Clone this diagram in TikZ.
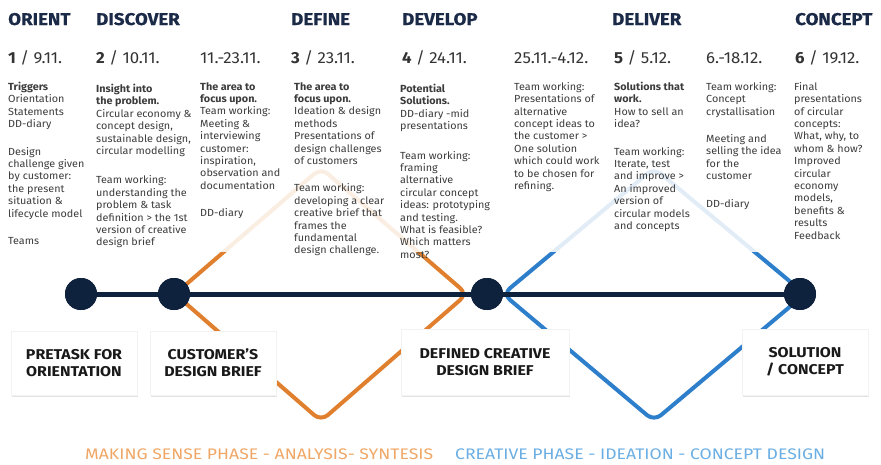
\documentclass[tikz,border=0pt]{standalone}
\usepackage{fontspec}
\setmainfont{Fira Sans}
\newfontfamily\titlef[FakeStretch=1.1,FakeBold=0.4]{Fira Sans}
\newfontfamily\bodyf[FakeStretch=1.05]{Fira Sans}
\newfontfamily\datef[FakeStretch=1.05]{Fira Sans}
\newfontfamily\phasef[FakeStretch=1.15]{Fira Sans}
\newfontfamily\boxf[FakeStretch=1.12]{Fira Sans}
\usetikzlibrary{shadows}
\definecolor{navy}{HTML}{0E213D}
\definecolor{ora}{HTML}{E0802E}
\definecolor{blu}{HTML}{2E7FCB}
\definecolor{oraL}{HTML}{F0A765}
\definecolor{bluL}{HTML}{6AAEE3}
\definecolor{bodytxt}{HTML}{3C3C3C}
\definecolor{headtxt}{HTML}{1B2A47}
\tikzset{
  title/.style={anchor=base west, inner sep=0pt, text=headtxt, font=\titlef\fontsize{17}{20}\selectfont\bfseries},
  datetxt/.style={anchor=base west, inner sep=0pt, text=black!80, font=\datef\fontsize{16}{19}\selectfont},
  coltxt/.style={anchor=north west, inner sep=0pt, align=left, text=bodytxt, font=\bodyf\fontsize{10.3}{12.4}\selectfont},
  boxnode/.style={fill=white, draw=black!5, align=center, text=black!90,
     font=\boxf\fontsize{14.2}{17}\selectfont\bfseries,
     drop shadow={shadow xshift=0.5pt, shadow yshift=-2pt, opacity=0.22}},
  dot/.style={circle, fill=navy, minimum size=32pt, inner sep=0pt},
  diamondline/.style={line width=4pt, rounded corners=9pt, line join=round},
  phase/.style={anchor=base west, inner sep=0pt, font=\phasef\fontsize{15.3}{17}\selectfont}
}
\newcommand{\gp}{\\[15pt]}
\begin{document}
\begin{tikzpicture}[x=1pt,y=-1pt]
\useasboundingbox (0,0) rectangle (881,464);
\fill[white] (0,0) rectangle (881,464);
% diamonds
\draw[diamondline, ora] (175,294) -- (321,168) -- (467,294) -- (321,421) -- cycle;
\draw[diamondline, blu] (503,294) -- (654,168) -- (805,294) -- (654,421) -- cycle;
% fading band
\fill[white, opacity=0.86] (0,72) rectangle (881,252);
% titles
\node[title] (tOrient) at (8,25) {ORIENT};
\node[title] (tDiscover) at (96,25) {DISCOVER};
\node[title] (tDefine) at (291,25) {DEFINE};
\node[title] (tDevelop) at (402,25) {DEVELOP};
\node[title] (tDeliver) at (612,25) {DELIVER};
\node[title] (tConcept) at (795,25) {CONCEPT};
% dates
\node[datetxt] (d1) at (8,63) {\textbf{1} / 9.11.};
\node[datetxt] (d2) at (96,63) {\textbf{2} / 10.11.};
\node[datetxt] (d2b) at (200,63) {11.-23.11.};
\node[datetxt] (d3) at (291,63) {\textbf{3} / 23.11.};
\node[datetxt] (d4) at (402,63) {\textbf{4} / 24.11.};
\node[datetxt] (d4b) at (514,63) {25.11.-4.12.};
\node[datetxt] (d5) at (614,63) {\textbf{5} / 5.12.};
\node[datetxt] (d5b) at (706,63) {6.-18.12.};
\node[datetxt] (d6) at (795,63) {\textbf{6} / 19.12.};
% columns
\node[coltxt] (c1) at (8,82) {\textbf{Triggers}\\ Orientation\\ Statements\\ DD-diary\gp Design\\ challenge given\\ by customer:\\ the present\\ situation \&\\ lifecycle model\gp Teams};
\node[coltxt] (c2) at (96,84) {\textbf{Insight into}\\ \textbf{the problem.}\\ Circular economy \&\\ concept design,\\ sustainable design,\\ circular modelling\\[17pt] Team working:\\ understanding the\\ problem \& task\\ definition > the 1st\\ version of creative\\ design brief};
\node[coltxt] (c3) at (200,82) {\textbf{The area to}\\ \textbf{focus upon.}\\ Team working:\\ Meeting \&\\ interviewing\\ customer:\\ inspiration,\\ observation and\\ documentation\gp DD-diary};
\node[coltxt] (c4) at (294,82) {\textbf{The area to}\\ \textbf{focus upon.}\\ Ideation \& design\\ methods\\ Presentations of\\ design challenges\\ of customers\gp Team working:\\ developing a clear\\ creative brief that\\ frames the\\ fundamental\\ design challenge.};
\node[coltxt] (c5) at (400,84) {\textbf{Potential}\\ \textbf{Solutions.}\\ DD-diary -mid\\ presentations\\[17pt] Team working:\\ framing\\ alternative\\ circular concept\\ ideas: prototyping\\ and testing.\\ What is feasible?\\ Which matters\\ most?};
\node[coltxt] (c6) at (514,82) {Team working:\\ Presentations of\\ alternative\\ concept ideas to\\ the customer >\\ One solution\\ which could work\\ to be chosen for\\ refining.};
\node[coltxt] (c7) at (614,82) {\textbf{Solutions that}\\ \textbf{work.}\\ How to sell an\\ idea?\gp Team working:\\ Iterate, test\\ and improve >\\ An improved\\ version of\\ circular models\\ and concepts};
\node[coltxt] (c8) at (706,82) {Team working:\\ Concept\\ crystallisation\gp Meeting and\\ selling the idea\\ for the\\ customer\gp DD-diary};
\node[coltxt] (c9) at (794,82) {Final\\ presentations\\ of circular\\ concepts:\\ What, why, to\\ whom \& how?\\ Improved\\ circular\\ economy\\ models,\\ benefits \&\\ results\\ Feedback};
% timeline
\node[dot] (n1) at (81,294) {};
\node[dot] (n2) at (174,294) {};
\node[dot] (n4) at (487,294) {};
\node[dot] (n6) at (800,294) {};
\draw[navy, line width=5pt] (n1.center) -- (n6.center);
\node[dot] at (n1) {};
\node[dot] at (n2) {};
\node[dot] at (n4) {};
\node[dot] at (n6) {};
% boxes
\node[boxnode, minimum width=126pt, minimum height=64pt] (b1) at (74,363) {PRETASK FOR\\ORIENTATION};
\node[boxnode, minimum width=126pt, minimum height=64pt] (b2) at (213,363) {CUSTOMER’S\\DESIGN BRIEF};
\node[boxnode, minimum width=168pt, minimum height=66pt] (b3) at (485,362) {DEFINED CREATIVE\\DESIGN BRIEF};
\node[boxnode, minimum width=126pt, minimum height=66pt] (b4) at (805,362) {SOLUTION\\/ CONCEPT};
% phase labels
\node[phase, text=oraL] (p1) at (85,459) {MAKING SENSE PHASE - ANALYSIS- SYNTESIS};
\node[phase, text=bluL] (p2) at (455,459) {CREATIVE PHASE - IDEATION - CONCEPT DESIGN};
\end{tikzpicture}
\end{document}
